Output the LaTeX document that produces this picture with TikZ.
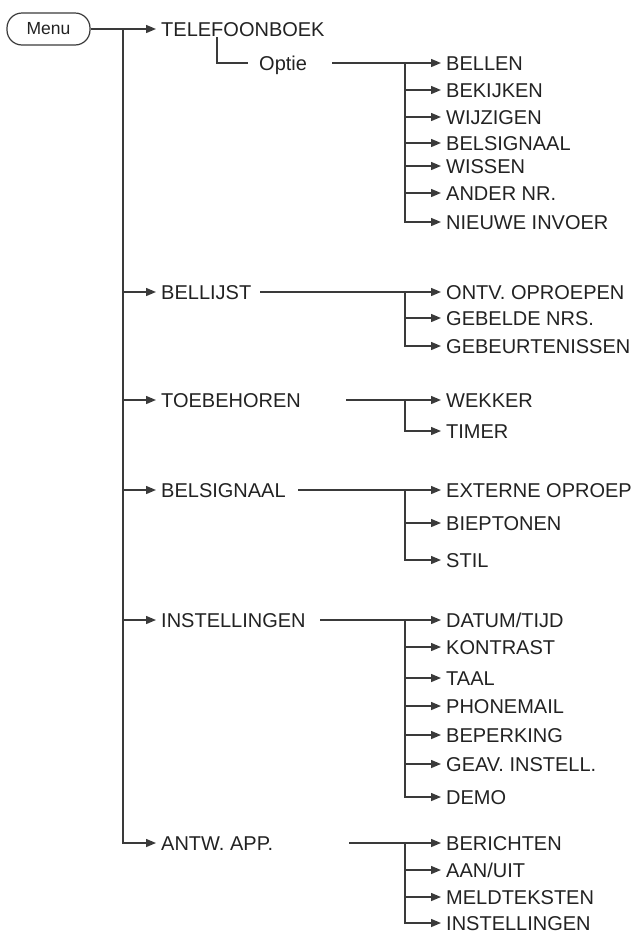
\documentclass[tikz,border=0pt]{standalone}
\usepackage{fontspec}
\setmainfont{Liberation Sans}
\usetikzlibrary{arrows.meta}
\definecolor{ink}{HTML}{222222}
\definecolor{wirec}{HTML}{3A3A3A}
\begin{document}
\begin{tikzpicture}[x=1pt,y=-1pt,
  lbl/.style={anchor=west, inner sep=0pt, text=ink, font=\fontsize{20}{24}\selectfont, text height=14.3pt, text depth=0pt},
  wire/.style={draw=wirec, line width=1.4pt},
  arr/.style={wire, -{Triangle[length=10pt,width=8pt]}, shorten >=5pt}
]
\useasboundingbox (0,0) rectangle (637,943);

% root
\node[draw=wirec, line width=1.2pt, rounded corners=15pt, minimum width=83pt, minimum height=32pt,
      inner sep=0pt, text=ink, font=\fontsize{17.5}{20}\selectfont] (menu) at (48.5,29) {Menu};

% first level
\node[lbl] (tel) at (161,29) {TELEFOONBOEK};
\node[lbl] (optie) at (259,63) {Optie};
\node[lbl] (bel) at (161,292) {BELLIJST};
\node[lbl] (toe) at (161,400) {TOEBEHOREN};
\node[lbl] (sig) at (161,490) {BELSIGNAAL};
\node[lbl] (ins) at (161,620) {INSTELLINGEN};
\node[lbl] (ant) at (161,843) {ANTW. APP.};

% trunk
\coordinate (tk) at (123,29);
\draw[wire] (menu.east) -- (tk);
\draw[arr] (tk) -- (tel.west);
\foreach \p in {bel,toe,sig,ins,ant} \draw[arr] (tk) |- (\p.west);

% Optie link
\coordinate (oa) at (217,37);
\draw[wire] (oa) |- ([xshift=-11pt]optie.west);

% children
\foreach \n/\t/\y in {a1/BELLEN/63, a2/BEKIJKEN/90, a3/WIJZIGEN/117, a4/BELSIGNAAL/143,
    a5/WISSEN/166, a6/ANDER NR./193, a7/NIEUWE INVOER/222,
    b1/ONTV. OPROEPEN/292, b2/GEBELDE NRS./318, b3/GEBEURTENISSEN/346,
    c1/WEKKER/400, c2/TIMER/431,
    d1/EXTERNE OPROEP/490, d2/BIEPTONEN/523, d3/STIL/560,
    e1/DATUM\slash TIJD/620, e2/KONTRAST/647, e3/TAAL/678, e4/PHONEMAIL/706,
    e5/BEPERKING/735, e6/GEAV. INSTELL./764, e7/DEMO/797,
    f1/BERICHTEN/843, f2/AAN\slash UIT/870, f3/MELDTEKSTEN/897, f4/INSTELLINGEN/923}
  \node[lbl] (\n) at (446,\y) {\t};

% branch points and lead lines
\coordinate (sa) at (332,63);  \coordinate (ba) at (405,63);
\coordinate (sb) at (260,292); \coordinate (bb) at (405,292);
\coordinate (sc) at (346,400); \coordinate (bc) at (405,400);
\coordinate (sd) at (298,490); \coordinate (bd) at (405,490);
\coordinate (se) at (320,620); \coordinate (be) at (405,620);
\coordinate (sf) at (349,843); \coordinate (bf) at (405,843);

\draw[wire] (sa) -- (ba);
\foreach \c in {a1,a2,a3,a4,a5,a6,a7} \draw[arr] (ba) |- (\c.west);
\draw[wire] (sb) -- (bb);
\foreach \c in {b1,b2,b3} \draw[arr] (bb) |- (\c.west);
\draw[wire] (sc) -- (bc);
\foreach \c in {c1,c2} \draw[arr] (bc) |- (\c.west);
\draw[wire] (sd) -- (bd);
\foreach \c in {d1,d2,d3} \draw[arr] (bd) |- (\c.west);
\draw[wire] (se) -- (be);
\foreach \c in {e1,e2,e3,e4,e5,e6,e7} \draw[arr] (be) |- (\c.west);
\draw[wire] (sf) -- (bf);
\foreach \c in {f1,f2,f3,f4} \draw[arr] (bf) |- (\c.west);
\end{tikzpicture}
\end{document}
